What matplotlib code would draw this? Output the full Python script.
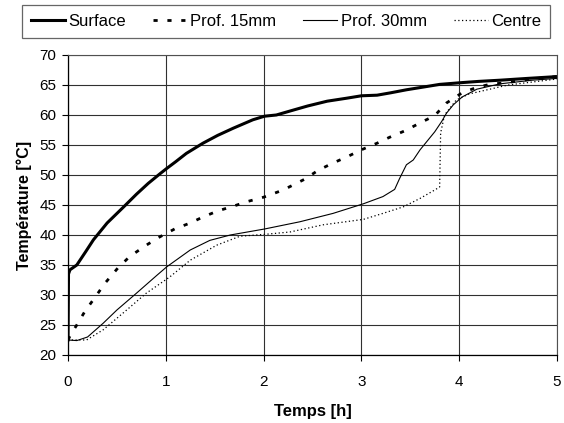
import matplotlib
matplotlib.use("Agg")
import matplotlib.pyplot as plt

plt.rcParams['font.family'] = ['Liberation Sans', 'DejaVu Sans']

# Temperature histories (time in hours, temperature in °C)
t_surface = [0, 0.005, 0.02, 0.09, 0.18, 0.26, 0.4, 0.57, 0.70, 0.82, 0.94, 1.01, 1.1, 1.21,
             1.38, 1.53, 1.69, 1.89, 2.01, 2.13, 2.3, 2.45, 2.65, 2.85, 3.0, 3.16, 3.3, 3.46,
             3.65, 3.8, 4.03, 4.2, 4.42, 4.7, 5.0]
T_surface = [22.5, 33.5, 34.2, 35, 37.2, 39.2, 42.0, 44.7, 46.8, 48.6, 50.2, 51.1, 52.2, 53.6,
             55.3, 56.6, 57.8, 59.2, 59.8, 60.0, 60.8, 61.5, 62.3, 62.8, 63.2, 63.3, 63.7, 64.2,
             64.7, 65.1, 65.4, 65.6, 65.8, 66.1, 66.4]

t_p15 = [0, 0.03, 0.09, 0.17, 0.28, 0.38, 0.51, 0.63, 0.8, 0.94, 1.09, 1.25, 1.38, 1.53,
         1.69, 1.84, 2.0, 2.2, 2.42, 2.56, 2.71, 2.85, 3.0, 3.16, 3.29, 3.45, 3.59, 3.75,
         3.87, 4.03, 4.18, 4.31, 4.49, 4.75, 4.93, 5.0]
T_p15 = [22.5, 23.5, 25, 27.2, 29.7, 32, 34.5, 36.4, 38.3, 39.7, 41, 42, 43, 44,
         44.8, 45.6, 46.3, 47.5, 49.3, 50.8, 52, 53, 54.2, 55.3, 56.3, 57.4, 58.6, 59.9,
         62.0, 63.7, 64.6, 65.1, 65.4, 66.0, 66.3, 66.4]

t_p30 = [0, 0.09, 0.2, 0.36, 0.5, 0.7, 0.91, 1.01, 1.25, 1.45, 1.66, 2.01, 2.37, 2.71,
         3.02, 3.22, 3.34, 3.39, 3.46, 3.53, 3.6, 3.67, 3.75, 3.82, 3.87, 3.94, 4.03, 4.18,
         4.42, 4.75, 5.0]
T_p30 = [22.5, 22.4, 23.0, 25.3, 27.5, 30.3, 33.3, 34.7, 37.5, 39.1, 40, 41, 42.2, 43.6,
         45.2, 46.4, 47.6, 49.4, 51.7, 52.5, 54.2, 55.6, 57.2, 58.9, 60.3, 61.7, 63, 64.3,
         65.2, 65.8, 66.1]

t_centre = [0, 0.19, 0.36, 0.6, 0.8, 1.04, 1.25, 1.52, 1.76, 2.01, 2.27, 2.61, 3.02, 3.22,
            3.43, 3.6, 3.75, 3.8, 3.81, 3.85, 3.97, 4.1, 4.5, 5.0]
T_centre = [22.5, 22.5, 24.2, 27.5, 30.3, 33, 35.8, 38.3, 39.8, 40.1, 40.5, 41.7, 42.6, 43.6,
            44.7, 46.1, 47.5, 48, 57, 60, 62.5, 63.5, 65, 66]

labels = ["Surface", "Prof. 15mm", "Prof. 30mm", "Centre"]
x_ticks = [0, 1, 2, 3, 4, 5]
y_ticks = [20, 25, 30, 35, 40, 45, 50, 55, 60, 65, 70]

fig = plt.figure(figsize=(5.64, 4.23), dpi=100)
ax = fig.add_axes([0.1206, 0.1608, 0.8670, 0.7092])

ax.plot(t_surface, T_surface, color='black', lw=2.2, label=labels[0])
ax.plot(t_p15, T_p15, color='black', lw=2.0, linestyle=(0, (1.5, 3.5)), label=labels[1])
ax.plot(t_p30, T_p30, color='black', lw=0.8, label=labels[2])
ax.plot(t_centre, T_centre, color='black', lw=0.9, linestyle=(0, (1, 2)), label=labels[3])

ax.set_xlim(0, 5)
ax.set_ylim(20, 70)
ax.set_xticks(x_ticks)
ax.set_yticks(y_ticks)
ax.tick_params(direction='out', length=4.5, width=0.8, labelsize=11, colors='black', pad=4)
ax.tick_params(axis='x', pad=10)
ax.grid(True, color='#303030', lw=0.8)
ax.set_axisbelow(True)
for side in ['top', 'right']:
    ax.spines[side].set_color('#505050')
    ax.spines[side].set_linewidth(0.8)
for side in ['left', 'bottom']:
    ax.spines[side].set_color('black')
    ax.spines[side].set_linewidth(0.9)

ax.set_xlabel("Temps [h]", fontsize=12, fontweight='bold', labelpad=11)
ax.set_ylabel("Température [°C]", fontsize=11.5, fontweight='bold', labelpad=5)

leg = fig.legend(loc='upper left', bbox_to_anchor=(22 / 564, 1 - 5 / 423),
                 ncol=4, fontsize=12, frameon=True, fancybox=False, handlelength=2.05,
                 handletextpad=0.2, borderaxespad=0, borderpad=0.55, columnspacing=1.6)
leg.get_frame().set_edgecolor('#404040')
leg.get_frame().set_linewidth(0.9)

fig.savefig("out.png", dpi=100)
